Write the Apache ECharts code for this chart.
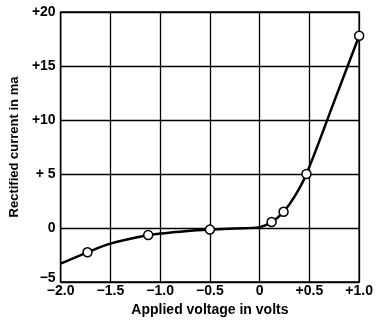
<!DOCTYPE html>
<html>
<head>
<meta charset="utf-8">
<script src="https://cdn.jsdelivr.net/npm/echarts@6/dist/echarts.min.js"></script>
<style>
  html, body { margin: 0; padding: 0; background: #fff; }
  #chart { width: 376px; height: 322px; }
</style>
</head>
<body>
<div id="chart"></div>
<script>
// Measured points (volts, milliamperes)
const measuredVolts = [-1.73, -1.12, -0.5, 0.12, 0.24, 0.47, 1.0];
const measuredCurrent = [-2.25, -0.65, -0.15, 0.55, 1.5, 5.0, 17.8];

// Smooth characteristic curve drawn through the measurements
const curveVolts = [-2.0, -1.73, -1.5, -1.12, -1.0, -0.75, -0.5, -0.25, 0.0, 0.12, 0.24, 0.35, 0.47, 0.75, 1.0];
const curveCurrent = [-3.3, -2.25, -1.45, -0.65, -0.52, -0.3, -0.15, -0.05, 0.08, 0.55, 1.5, 2.9, 5.0, 11.75, 17.8];

// Axis tick labels
const xTickValues = [-2.0, -1.5, -1.0, -0.5, 0, 0.5, 1.0];
const xTickLabels = ['\u22122.0', '\u22121.5', '\u22121.0', '\u22120.5', '0', '+0.5', '+1.0'];
const yTickValues = [-5, 0, 5, 10, 15, 20];
const yTickLabels = ['\u22125', '0', '+ 5', '+10', '+15', '+20'];

const textFont = 'Liberation Sans';

function labelFor(values, labels) {
  return function (v) {
    for (let i = 0; i < values.length; i++) {
      if (Math.abs(values[i] - v) < 1e-6) return labels[i];
    }
    return '';
  };
}

const yLabelText = labelFor(yTickValues, yTickLabels);

const chart = echarts.init(document.getElementById('chart'), null, { renderer: 'canvas' });
chart.setOption({
  animation: false,
  backgroundColor: '#fff',
  grid: {
    left: 53, right: 10, top: 12, bottom: 39,
    show: true, borderColor: '#000', borderWidth: 1.5, backgroundColor: 'transparent'
  },
  xAxis: {
    type: 'value', min: -2, max: 1, interval: 0.5,
    name: 'Applied voltage in volts',
    nameLocation: 'middle', nameGap: 21,
    nameTextStyle: { color: '#000', fontFamily: textFont, fontSize: 14, fontWeight: 'bold' },
    axisLine: { show: false },
    axisTick: { show: false },
    axisLabel: {
      color: '#000', fontFamily: textFont, fontSize: 14, fontWeight: 'bold', margin: 2,
      formatter: labelFor(xTickValues, xTickLabels)
    },
    splitLine: { show: true, lineStyle: { color: '#000', width: 1.3 } }
  },
  yAxis: {
    type: 'value', min: -5, max: 20, interval: 5,
    name: 'Rectified current in ma',
    nameLocation: 'middle', nameGap: 38, nameRotate: 90,
    nameTextStyle: { color: '#000', fontFamily: textFont, fontSize: 13, fontWeight: 'bold' },
    axisLine: { show: false },
    axisTick: { show: false },
    axisLabel: {
      color: '#000', fontFamily: textFont, fontSize: 14, fontWeight: 'bold', margin: 5,
      // the bottom label sits a little above its line, clear of the x labels
      formatter: function (v) {
        const s = yLabelText(v);
        return v === -5 ? '{low|' + s + '}' : s;
      },
      rich: {
        low: { color: '#000', fontFamily: textFont, fontSize: 14, fontWeight: 'bold', padding: [0, 0, 8, 0] }
      }
    },
    splitLine: { show: true, lineStyle: { color: '#000', width: 1.3 } }
  },
  series: [
    {
      type: 'line',
      data: curveVolts.map((v, i) => [v, curveCurrent[i]]),
      smooth: 0.35,
      showSymbol: false,
      symbol: 'none',
      lineStyle: { color: '#000', width: 2.5 },
      z: 3
    },
    {
      type: 'scatter',
      data: measuredVolts.map((v, i) => [v, measuredCurrent[i]]),
      symbol: 'circle',
      symbolSize: 9,
      itemStyle: { color: '#fff', opacity: 1, borderColor: '#000', borderWidth: 1.5 },
      z: 4
    }
  ]
});
</script>
</body>
</html>
